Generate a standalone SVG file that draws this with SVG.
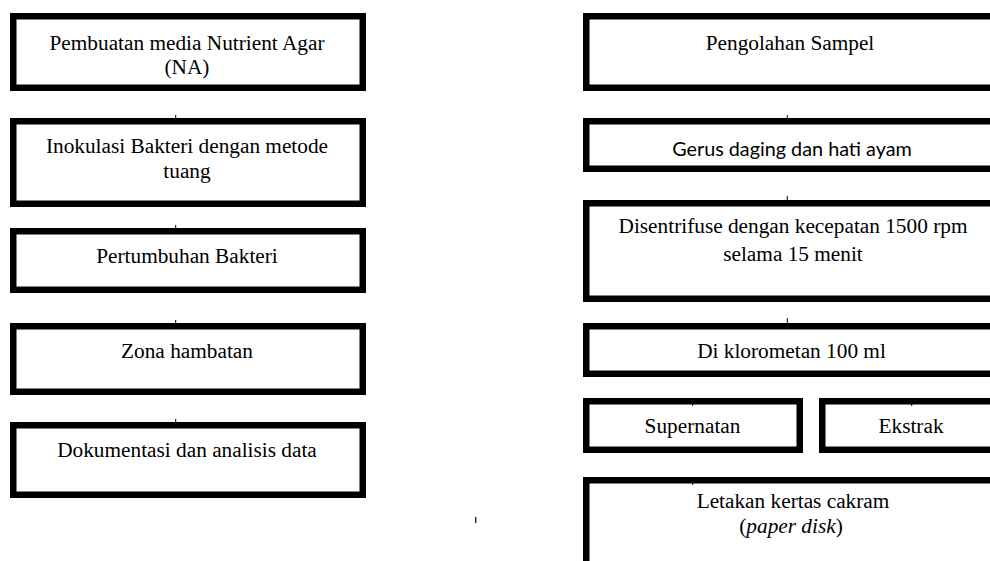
<svg xmlns="http://www.w3.org/2000/svg" width="990" height="561" viewBox="0 0 990 561">
<style>
.box{fill:#fff;stroke:#000;stroke-width:6.5}
.t{font-family:"Liberation Serif","Times New Roman",serif;font-size:21.3px;fill:#000;text-anchor:middle}
.s{font-family:Lato,"Open Sans",sans-serif;font-size:19.8px;fill:#000;text-anchor:middle}
.tick{stroke:#000;stroke-width:1}
</style>
<rect width="990" height="561" fill="#fff"/>
<g id="nodes">
<g id="n-media"><rect class="box" x="13.25" y="16.25" width="349.5" height="71.5"/><text class="t" x="187" y="49.5">Pembuatan media Nutrient Agar</text><text class="t" x="187" y="74">(NA)</text></g>
<g id="n-inokulasi"><rect class="box" x="13.25" y="121.25" width="349.5" height="82.5"/><text class="t" x="187" y="152.5">Inokulasi Bakteri dengan metode</text><text class="t" x="187" y="177.5">tuang</text></g>
<g id="n-pertumbuhan"><rect class="box" x="13.25" y="231.25" width="349.5" height="58.5"/><text class="t" x="187" y="263.3">Pertumbuhan Bakteri</text></g>
<g id="n-zona"><rect class="box" x="13.25" y="326.25" width="349.5" height="65.5"/><text class="t" x="187" y="358">Zona hambatan</text></g>
<g id="n-dokumentasi"><rect class="box" x="13.25" y="425.25" width="349.5" height="69.5"/><text class="t" x="187" y="456.5">Dokumentasi dan analisis data</text></g>
<g id="n-pengolahan"><rect class="box" x="586.25" y="16.25" width="420" height="71.5"/><text class="t" x="790" y="50">Pengolahan Sampel</text></g>
<g id="n-gerus"><rect class="box" x="586.25" y="121.25" width="420" height="47.5"/><text class="s" x="792" y="155.5">Gerus daging dan hati ayam</text></g>
<g id="n-sentrifuse"><rect class="box" x="586.25" y="203.25" width="420" height="95.5"/><text class="t" x="793" y="233.3">Disentrifuse dengan kecepatan 1500 rpm</text><text class="t" x="793" y="261">selama 15 menit</text></g>
<g id="n-klorometan"><rect class="box" x="586.25" y="326.25" width="420" height="47.5"/><text class="t" x="791.5" y="358">Di klorometan 100 ml</text></g>
<g id="n-supernatan"><rect class="box" x="586.25" y="401.25" width="213.5" height="48.5"/><text class="t" x="692.5" y="433.3">Supernatan</text></g>
<g id="n-ekstrak"><rect class="box" x="822.25" y="401.25" width="190" height="48.5"/><text class="t" x="911" y="433.3">Ekstrak</text></g>
<g id="n-letakan"><rect class="box" x="586.25" y="480.25" width="420" height="120"/><text class="t" x="793" y="508.3">Letakan kertas cakram</text><text class="t" x="791" y="533.3">(<tspan font-style="italic">paper disk</tspan>)</text></g>
</g>
<g id="connectors">
<line class="tick" x1="175.7" y1="115" x2="175.7" y2="118"/>
<line class="tick" x1="175.7" y1="225" x2="175.7" y2="228"/>
<line class="tick" x1="175.7" y1="320" x2="175.7" y2="323"/>
<line class="tick" x1="175.7" y1="419" x2="175.7" y2="422"/>
<line class="tick" x1="787.3" y1="115" x2="787.3" y2="118"/>
<line class="tick" x1="787.3" y1="196" x2="787.3" y2="200"/>
<line class="tick" x1="787.3" y1="318" x2="787.3" y2="323"/>
<line class="tick" x1="692.7" y1="403" x2="692.7" y2="406"/>
<line class="tick" x1="911.7" y1="403" x2="911.7" y2="406"/>
<line class="tick" x1="692.7" y1="482" x2="692.7" y2="485"/>
<line x1="475.7" y1="517" x2="475.7" y2="523" stroke="#333" stroke-width="1.5"/>
</g>
</svg>
